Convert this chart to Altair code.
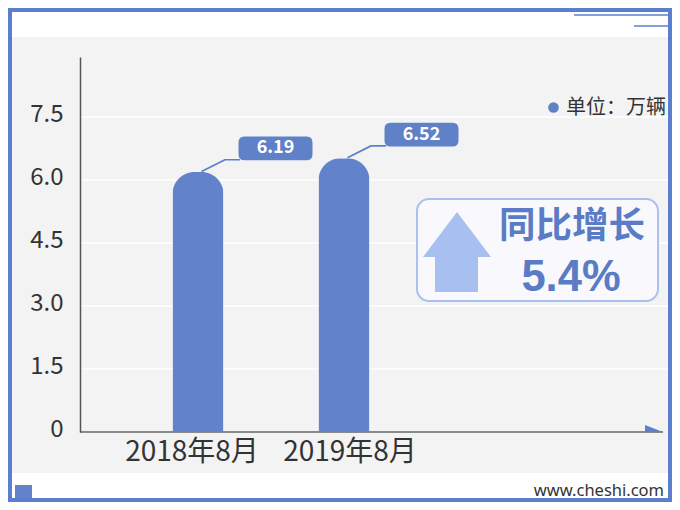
import altair as alt
import pandas as pd

# ---- data ----
categories = ["2018年8月", "2019年8月"]
values = [6.19, 6.52]
y_ticks = [0, 1.5, 3.0, 4.5, 6.0, 7.5]
unit_label = "单位：万辆"
growth_title = "同比增长"
growth_value = "5.4%"
site = "www.cheshi.com"

df = pd.DataFrame({"cat": categories, "value": values})
grid_df = pd.DataFrame({"value": y_ticks[1:]})
one = pd.DataFrame({"k": [0]})

FONT = "Noto Sans CJK SC"
BAR_BLUE = "#6283cb"
LABEL_BLUE = "#5f81c7"
FRAME_BLUE = "#5b7fcc"
LIGHT_BLUE = "#a8c0ef"
TEXT_BLUE = "#5a7cc6"
GRAY_BG = "#f3f3f3"

W, H = 583, 375


def px(x):  # page x -> plot x
    return x - 80


def py(y):  # page y -> plot y
    return y - 57


xscale = alt.Scale(domain=categories, range=[45, 337], paddingInner=0, paddingOuter=0)
yscale = alt.Scale(domain=[0, 8.93], nice=False, zero=True)

xaxis = alt.Axis(
    title=None, domain=False, ticks=False, labelAngle=0, labelFontSize=28,
    labelColor="#333333", labelFont=FONT, labelPadding=6, zindex=1,
    labelOffset=alt.ExprRef(f"datum.value == '{categories[0]}' ? -6 : 6"),
)
yaxis = alt.Axis(
    title=None, values=y_ticks, grid=False, ticks=False, domainColor="#555555",
    domainWidth=1.5, labelFontSize=24, labelColor="#333333", labelFont=FONT,
    labelPadding=17, labelFlush=False, labelOffset=-3, zindex=1,
    labelExpr="datum.value == 0 ? '0' : format(datum.value, '.1f')",
)
X = alt.X("cat:N", scale=xscale, sort=categories, axis=xaxis)
Y = alt.Y("value:Q", scale=yscale, axis=yaxis)

# background band
bg = alt.Chart(one).mark_rect(color=GRAY_BG).encode(
    x=alt.value(px(12)), x2=alt.value(px(668)), y=alt.value(py(37)), y2=alt.value(py(473))
)

# gridlines
grid = alt.Chart(grid_df).mark_rule(color="#ffffff", strokeWidth=1.5).encode(
    y=Y,
    x=alt.value(0),
    x2=alt.value(px(670)),
)

# decorative lines top-right
deco1 = alt.Chart(one).mark_rule(color=FRAME_BLUE, strokeWidth=1.5).encode(
    x=alt.value(px(574)), x2=alt.value(px(669)), y=alt.value(py(15))
)
deco2 = alt.Chart(one).mark_rule(color=FRAME_BLUE, strokeWidth=1.5).encode(
    x=alt.value(px(634)), x2=alt.value(px(669)), y=alt.value(py(26))
)
# bottom-left small block
block = alt.Chart(one).mark_rect(color=BAR_BLUE).encode(
    x=alt.value(px(15)), x2=alt.value(px(32)), y=alt.value(py(485)), y2=alt.value(py(499))
)
site_text = alt.Chart(one).mark_text(
    text=site, font="Noto Sans", fontSize=16.5, color="#333333", align="right", baseline="middle"
).encode(x=alt.value(px(664)), y=alt.value(py(491)))

# x axis line + arrow
xline = alt.Chart(one).mark_rule(color="#666666", strokeWidth=1.5).encode(
    x=alt.value(0), x2=alt.value(px(663)), y=alt.value(py(432))
)
xarrow = alt.Chart(one).mark_point(
    shape="M0,-7 L18,0 L0,0 Z", size=4, filled=True, opacity=1, color=FRAME_BLUE
).encode(x=alt.value(px(645)), y=alt.value(py(432)))

# bars
bars = alt.Chart(df).mark_bar(
    size=51, color=BAR_BLUE, cornerRadiusTopLeft=22, cornerRadiusTopRight=22
).encode(x=X, y=Y)

# callout (connector + rounded box) anchored at each bar top
callout_path = (
    "M3.1,-1.2 L26.6,-13.1 L42,-13.1 L42,-11.5 L27.4,-11.5 L3.9,0.2 Z "
    "M46.5,-35.5 L108.5,-35.5 Q114.5,-35.5 114.5,-29.5 L114.5,-17.8 Q114.5,-11.8 108.5,-11.8 "
    "L46.5,-11.8 Q40.5,-11.8 40.5,-17.8 L40.5,-29.5 Q40.5,-35.5 46.5,-35.5 Z"
)
callouts = alt.Chart(df).mark_point(
    shape=callout_path, size=4, filled=True, opacity=1, color=LABEL_BLUE
).encode(x=X, y=Y)

value_text = alt.Chart(df).mark_text(
    font=FONT, fontSize=18, fontWeight="bold", color="#ffffff", dx=77.5, dy=-23.6,
    align="center", baseline="middle",
).encode(x=X, y=Y, text=alt.Text("value:Q", format=".2f"))

# growth box
gbox = alt.Chart(one).mark_rect(
    fill="#f8f8fd", stroke="#a9c1ee", strokeWidth=2, cornerRadius=12
).encode(x=alt.value(px(417)), x2=alt.value(px(658)), y=alt.value(py(199)), y2=alt.value(py(301)))
garrow = alt.Chart(one).mark_point(
    shape="M0,-40 L34,5 L21,5 L21,40 L-22,40 L-22,5 L-34,5 Z",
    size=4, filled=True, opacity=1, color=LIGHT_BLUE,
).encode(x=alt.value(px(457)), y=alt.value(py(252)))
gtitle = alt.Chart(one).mark_text(
    text=growth_title, font=FONT, fontSize=36.5, fontWeight="bold", color=TEXT_BLUE,
    align="center", baseline="middle",
).encode(x=alt.value(px(572)), y=alt.value(py(226.5)))
gvalue = alt.Chart(one).mark_text(
    text=growth_value, font="Liberation Sans", fontSize=43.5, fontWeight="bold", color=TEXT_BLUE,
    align="center", baseline="middle",
).encode(x=alt.value(px(571)), y=alt.value(py(278)))

# unit legend
ldot = alt.Chart(one).mark_point(
    shape="circle", size=113, filled=True, opacity=1, color=LABEL_BLUE
).encode(x=alt.value(px(553.5)), y=alt.value(py(107.5)))
ltext = alt.Chart(one).mark_text(
    text=unit_label, font=FONT, fontSize=20, color="#333333", align="left", baseline="middle"
).encode(x=alt.value(px(566)), y=alt.value(py(107.5)))

# outer frame
frame = alt.Chart(one).mark_rect(
    filled=False, stroke=FRAME_BLUE, strokeWidth=4
).encode(x=alt.value(px(10)), x2=alt.value(px(670)), y=alt.value(py(10)), y2=alt.value(py(500)))

chart = alt.layer(
    bg, grid, deco1, deco2, block, site_text, xline, xarrow, bars, callouts, value_text,
    gbox, garrow, gtitle, gvalue, ldot, ltext, frame,
).properties(
    width=W,
    height=H,
    padding={"left": 72, "top": 49, "right": 9, "bottom": 70},
    autosize=alt.AutoSizeParams(type="none"),
    background="#ffffff",
).configure_view(stroke=None)

chart.save("out.html", embed_options={"renderer": "svg", "actions": False})
